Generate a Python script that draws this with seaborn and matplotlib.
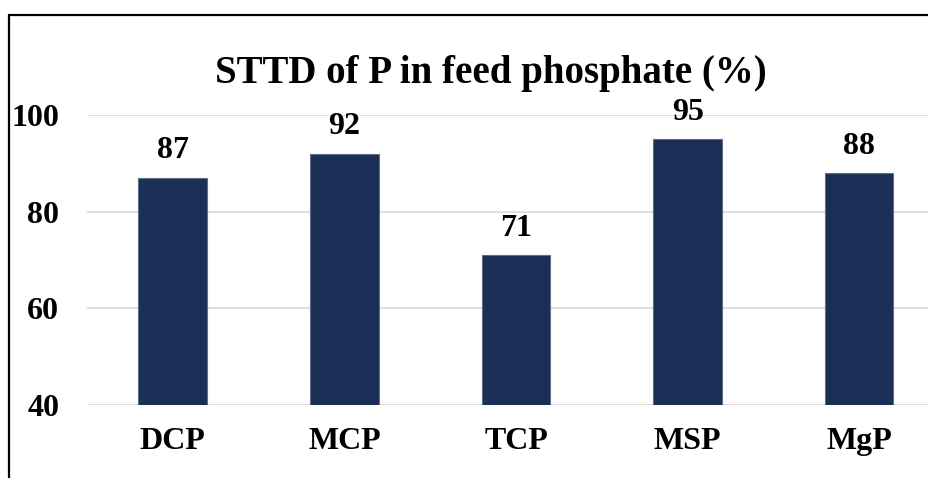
import matplotlib
matplotlib.use("Agg")
import matplotlib.pyplot as plt
import seaborn as sns
import pandas as pd

# data
phosphates = ["DCP", "MCP", "TCP", "MSP", "MgP"]
sttd_p = [87, 92, 71, 95, 88]
y_ticks = [40, 60, 80, 100]

df = pd.DataFrame({"source": phosphates, "sttd": sttd_p})

sns.set_theme(style="white")
plt.rcParams["font.family"] = ["Liberation Serif", "DejaVu Serif"]
plt.rcParams["font.weight"] = "bold"

fig = plt.figure(figsize=(9.29, 4.78), dpi=100)
ax = fig.add_axes([0.0936, 0.1527, 0.9236, 0.6067])

sns.barplot(data=df, x="source", y="sttd", ax=ax, color="#1b2f56",
            saturation=1, width=0.4, edgecolor="#5d6f88", linewidth=0.8, zorder=3)

ax.set_ylim(40, 100)
ax.set_yticks(y_ticks)
ax.yaxis.grid(True, color="#d9d9d9", linewidth=1.2, zorder=0)
ax.xaxis.grid(False)
for s in ax.spines.values():
    s.set_visible(False)
ax.set_xlabel("")
ax.set_ylabel("")
ax.tick_params(axis="y", labelsize=23, pad=20, length=0)
ax.tick_params(axis="x", labelsize=23, pad=16, length=0)
for lab in ax.get_xticklabels() + ax.get_yticklabels():
    lab.set_fontweight("bold")
    lab.set_color("black")

labels = ax.bar_label(ax.containers[0], padding=9, fontsize=23,
                      fontweight="bold", color="black")
for t in labels:
    t.set_clip_on(False)

fig.text(0.5285, 0.8264, "STTD of P in feed phosphate (%)", ha="center",
         va="baseline", fontsize=28, fontweight="bold", color="black")

# outer frame (left and top edges only are visible)
fx, fy = 9 / 929, 1 - 14.5 / 478
fig.add_artist(plt.Line2D([fx, fx], [0, fy], transform=fig.transFigure,
                          color="black", linewidth=1.6))
fig.add_artist(plt.Line2D([fx, 1], [fy, fy], transform=fig.transFigure,
                          color="black", linewidth=1.6))

fig.savefig("out.png", dpi=100)
